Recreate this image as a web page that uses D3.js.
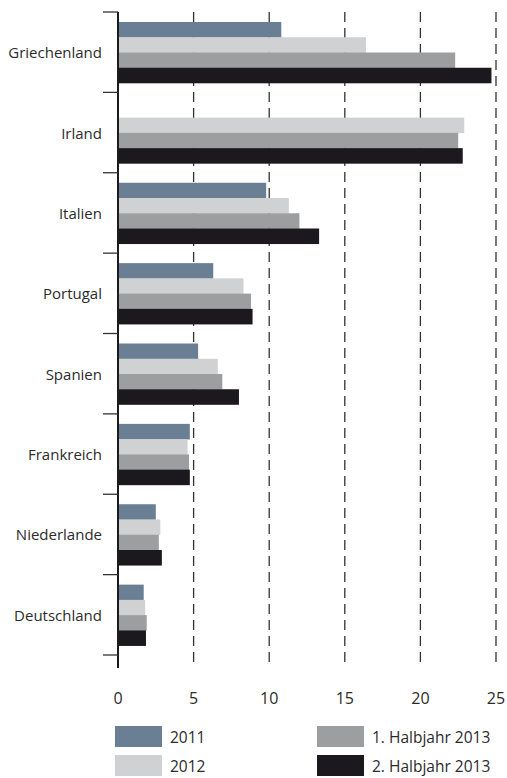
<!DOCTYPE html>
<html>
<head>
<meta charset="utf-8">
<script src="https://cdn.jsdelivr.net/npm/d3@7"></script>
<style>
  body { margin: 0; background: #fff; }
  text { font-family: "Open Sans", "Noto Sans", sans-serif; fill: #2b2b2b; }
</style>
</head>
<body>
<svg id="chart" width="507" height="778"></svg>
<script>
// categories, top to bottom
var countries = ['Griechenland', 'Irland', 'Italien', 'Portugal', 'Spanien', 'Frankreich', 'Niederlande', 'Deutschland'];
var seriesNames = ['2011', '2012', '1. Halbjahr 2013', '2. Halbjahr 2013'];
var seriesColors = ['#6a7f93', '#d0d1d3', '#9d9e9f', '#1b191e'];

// values per series (same order as countries)
var v2011 = [10.8, 0, 9.8, 6.3, 5.3, 4.75, 2.5, 1.7];
var v2012 = [16.4, 22.9, 11.3, 8.3, 6.6, 4.6, 2.8, 1.8];
var vH1 = [22.3, 22.5, 12.0, 8.8, 6.9, 4.7, 2.7, 1.9];
var vH2 = [24.7, 22.8, 13.3, 8.9, 8.0, 4.75, 2.9, 1.85];
var xTicks = [0, 5, 10, 15, 20, 25];

var seriesValues = [v2011, v2012, vH1, vH2];

var svg = d3.select('#chart');

var x = d3.scaleLinear().domain([0, 25]).range([118, 496]);
var y0 = d3.scaleBand().domain(countries).range([12, 655]);
var y1 = d3.scaleBand().domain(d3.range(seriesNames.length)).range([10, 71]);

// dashed gridlines (also serve as x ticks)
svg.append('g').selectAll('line')
    .data(xTicks.slice(1))
    .enter().append('line')
    .attr('x1', function(d){ return x(d); })
    .attr('x2', function(d){ return x(d); })
    .attr('y1', 12)
    .attr('y2', 668)
    .attr('stroke', '#333')
    .attr('stroke-width', 1.3)
    .attr('stroke-dasharray', '10,6');

// bars
var groups = svg.append('g').selectAll('g')
    .data(countries)
    .enter().append('g')
    .attr('transform', function(d){ return 'translate(0,' + y0(d) + ')'; });

groups.selectAll('rect')
    .data(function(c, i){
        return seriesValues.map(function(vals, s){ return {s: s, v: vals[i]}; });
    })
    .enter().append('rect')
    .filter(function(d){ return d.v > 0; })
    .attr('x', x(0))
    .attr('y', function(d){ return y1(d.s); })
    .attr('width', function(d){ return x(d.v) - x(0); })
    .attr('height', y1.bandwidth() + 0.3)
    .attr('fill', function(d){ return seriesColors[d.s]; });

// category axis
var yAxisLine = svg.append('g');
yAxisLine.append('line')
    .attr('x1', x(0)).attr('x2', x(0))
    .attr('y1', 12).attr('y2', 668)
    .attr('stroke', '#1b1b1b')
    .attr('stroke-width', 2);

var bounds = countries.map(function(c){ return y0(c); }).concat([y0.range()[1]]);
yAxisLine.selectAll('.tick')
    .data(bounds)
    .enter().append('line')
    .attr('x1', 103).attr('x2', x(0))
    .attr('y1', function(d){ return d; })
    .attr('y2', function(d){ return d; })
    .attr('stroke', '#333')
    .attr('stroke-width', 1.3);

yAxisLine.selectAll('text')
    .data(countries)
    .enter().append('text')
    .attr('x', 102)
    .attr('y', function(d){ return y0(d) + y0.bandwidth() / 2 + 6; })
    .attr('text-anchor', 'end')
    .style('font-size', '15px')
    .text(function(d){ return d; });

// x tick labels
svg.append('g').selectAll('text')
    .data(xTicks)
    .enter().append('text')
    .attr('x', function(d){ return x(d); })
    .attr('y', 704)
    .attr('text-anchor', 'middle')
    .style('font-size', '16px')
    .text(function(d){ return d; });

// legend
var legendPos = [[115, 726], [115, 755], [317, 726], [317, 755]];
var legend = svg.append('g').selectAll('g')
    .data(seriesNames)
    .enter().append('g')
    .attr('transform', function(d, i){ return 'translate(' + legendPos[i][0] + ',' + legendPos[i][1] + ')'; });

legend.append('rect')
    .attr('width', 47)
    .attr('height', 21)
    .attr('fill', function(d, i){ return seriesColors[i]; });

legend.append('text')
    .attr('x', 55)
    .attr('y', 17)
    .style('font-size', '15.5px')
    .text(function(d){ return d; });
</script>
</body>
</html>
